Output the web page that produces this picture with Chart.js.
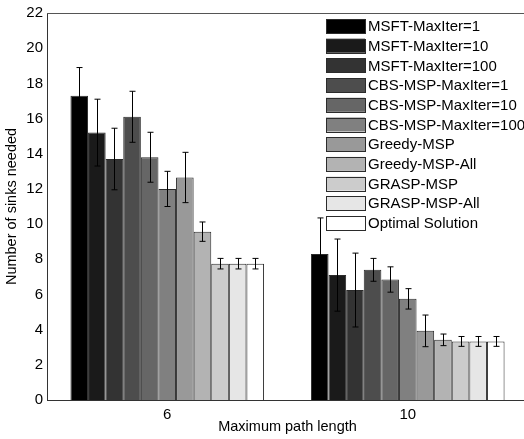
<!DOCTYPE html>
<html>
<head>
<meta charset="utf-8">
<script src="https://cdn.jsdelivr.net/npm/chart.js@4/dist/chart.umd.min.js"></script>
<style>
  html, body { margin: 0; padding: 0; background: #fff; overflow: hidden; }
  #wrap { width: 528px; height: 439px; }
</style>
</head>
<body>
<div id="wrap"><canvas id="chart"></canvas></div>
<script>
const categories = ["6", "10"];

const seriesNames = [
  "MSFT-MaxIter=1", "MSFT-MaxIter=10", "MSFT-MaxIter=100",
  "CBS-MSP-MaxIter=1", "CBS-MSP-MaxIter=10", "CBS-MSP-MaxIter=100",
  "Greedy-MSP", "Greedy-MSP-All", "GRASP-MSP", "GRASP-MSP-All", "Optimal Solution"
];

// mean values, one array per path length
const meansLen6 = [17.3, 15.2, 13.7, 16.1, 13.8, 12.0, 12.65, 9.57, 7.75, 7.75, 7.75];
const meansLen10 = [8.3, 7.1, 6.25, 7.4, 6.85, 5.75, 3.93, 3.42, 3.33, 3.33, 3.33];

// error (half length) per bar
const errLen6 = [1.6, 1.9, 1.75, 1.45, 1.42, 1.0, 1.43, 0.55, 0.3, 0.3, 0.3];
const errLen10 = [2.05, 2.05, 2.1, 0.65, 0.72, 0.58, 0.9, 0.33, 0.28, 0.28, 0.28];

const yTicks = [0, 2, 4, 6, 8, 10, 12, 14, 16, 18, 20, 22];

const grays = ["#000000", "#1a1a1a", "#333333", "#4d4d4d", "#666666", "#808080",
  "#999999", "#b3b3b3", "#cccccc", "#e6e6e6", "#ffffff"];

const FONT = "'Liberation Sans', Arial, sans-serif";

const datasets = seriesNames.map((name, i) => ({
  label: name,
  data: [meansLen6[i], meansLen10[i]],
  err: [errLen6[i], errLen10[i]],
  backgroundColor: grays[i],
  borderColor: "#2b2b2b",
  borderWidth: 1,
  categoryPercentage: 0.805,
  barPercentage: 1.0,
}));

// error bars drawn from the dataset's err values through the y scale
const errorBars = {
  id: "errorBars",
  afterDatasetsDraw(chart) {
    const ctx = chart.ctx;
    const y = chart.scales.y;
    ctx.save();
    ctx.strokeStyle = "#000";
    ctx.lineWidth = 1;
    chart.data.datasets.forEach((ds, di) => {
      chart.getDatasetMeta(di).data.forEach((bar, j) => {
        const v = ds.data[j], e = ds.err[j];
        const x = Math.round(bar.x) + 0.5;
        const yt = y.getPixelForValue(v + e);
        const yb = y.getPixelForValue(v - e);
        ctx.beginPath();
        ctx.moveTo(x, yt); ctx.lineTo(x, yb);
        ctx.moveTo(x - 3, yt); ctx.lineTo(x + 3, yt);
        ctx.moveTo(x - 3, yb); ctx.lineTo(x + 3, yb);
        ctx.stroke();
      });
    });
    ctx.restore();
  }
};

// top frame line and legend inside the plot
const frameAndLegend = {
  id: "frameAndLegend",
  afterDraw(chart) {
    const ctx = chart.ctx;
    const a = chart.chartArea;
    ctx.save();
    ctx.strokeStyle = "#555";
    ctx.lineWidth = 1;
    ctx.beginPath();
    ctx.moveTo(a.left, Math.round(a.top) + 0.5);
    ctx.lineTo(a.right, Math.round(a.top) + 0.5);
    ctx.stroke();

    ctx.font = "15px " + FONT;
    ctx.textBaseline = "middle";
    ctx.fillStyle = "#000";
    chart.data.datasets.forEach((ds, i) => {
      const cy = 26 + i * 19.7;
      ctx.fillStyle = ds.backgroundColor;
      ctx.fillRect(326, cy - 7, 39, 14);
      ctx.strokeStyle = "#2b2b2b";
      ctx.strokeRect(326.5, Math.round(cy - 7) + 0.5, 39, 14);
      ctx.fillStyle = "#000";
      ctx.fillText(ds.label, 368, cy + 1);
    });
    ctx.restore();
  }
};

new Chart(document.getElementById("chart"), {
  type: "bar",
  data: { labels: categories, datasets: datasets },
  plugins: [errorBars, frameAndLegend],
  options: {
    responsive: true,
    maintainAspectRatio: false,
    animation: false,
    layout: { padding: { top: 10, right: 0, left: 0, bottom: 0 } },
    plugins: { legend: { display: false }, tooltip: { enabled: false } },
    scales: {
      x: {
        grid: { display: false, drawTicks: false },
        border: { display: true, color: "#333", width: 1 },
        ticks: { color: "#000", font: { family: FONT, size: 15 }, padding: 6 },
        title: {
          display: true, text: "Maximum path length", color: "#000",
          font: { family: FONT, size: 14.5 }, padding: { top: 0, bottom: 3 }
        },
        afterFit(scale) { scale.height = 39; }
      },
      y: {
        min: 0, max: 22,
        afterBuildTicks(scale) { scale.ticks = yTicks.map(v => ({ value: v })); },
        grid: { display: false, drawTicks: false },
        border: { display: true, color: "#333", width: 1 },
        ticks: { color: "#000", font: { family: FONT, size: 15 }, padding: 4 },
        title: {
          display: true, text: "Number of sinks needed", color: "#000",
          font: { family: FONT, size: 14.5 }, padding: { top: 3, bottom: 0 }
        },
        afterFit(scale) { scale.width = 47; }
      }
    }
  }
});
</script>
</body>
</html>
